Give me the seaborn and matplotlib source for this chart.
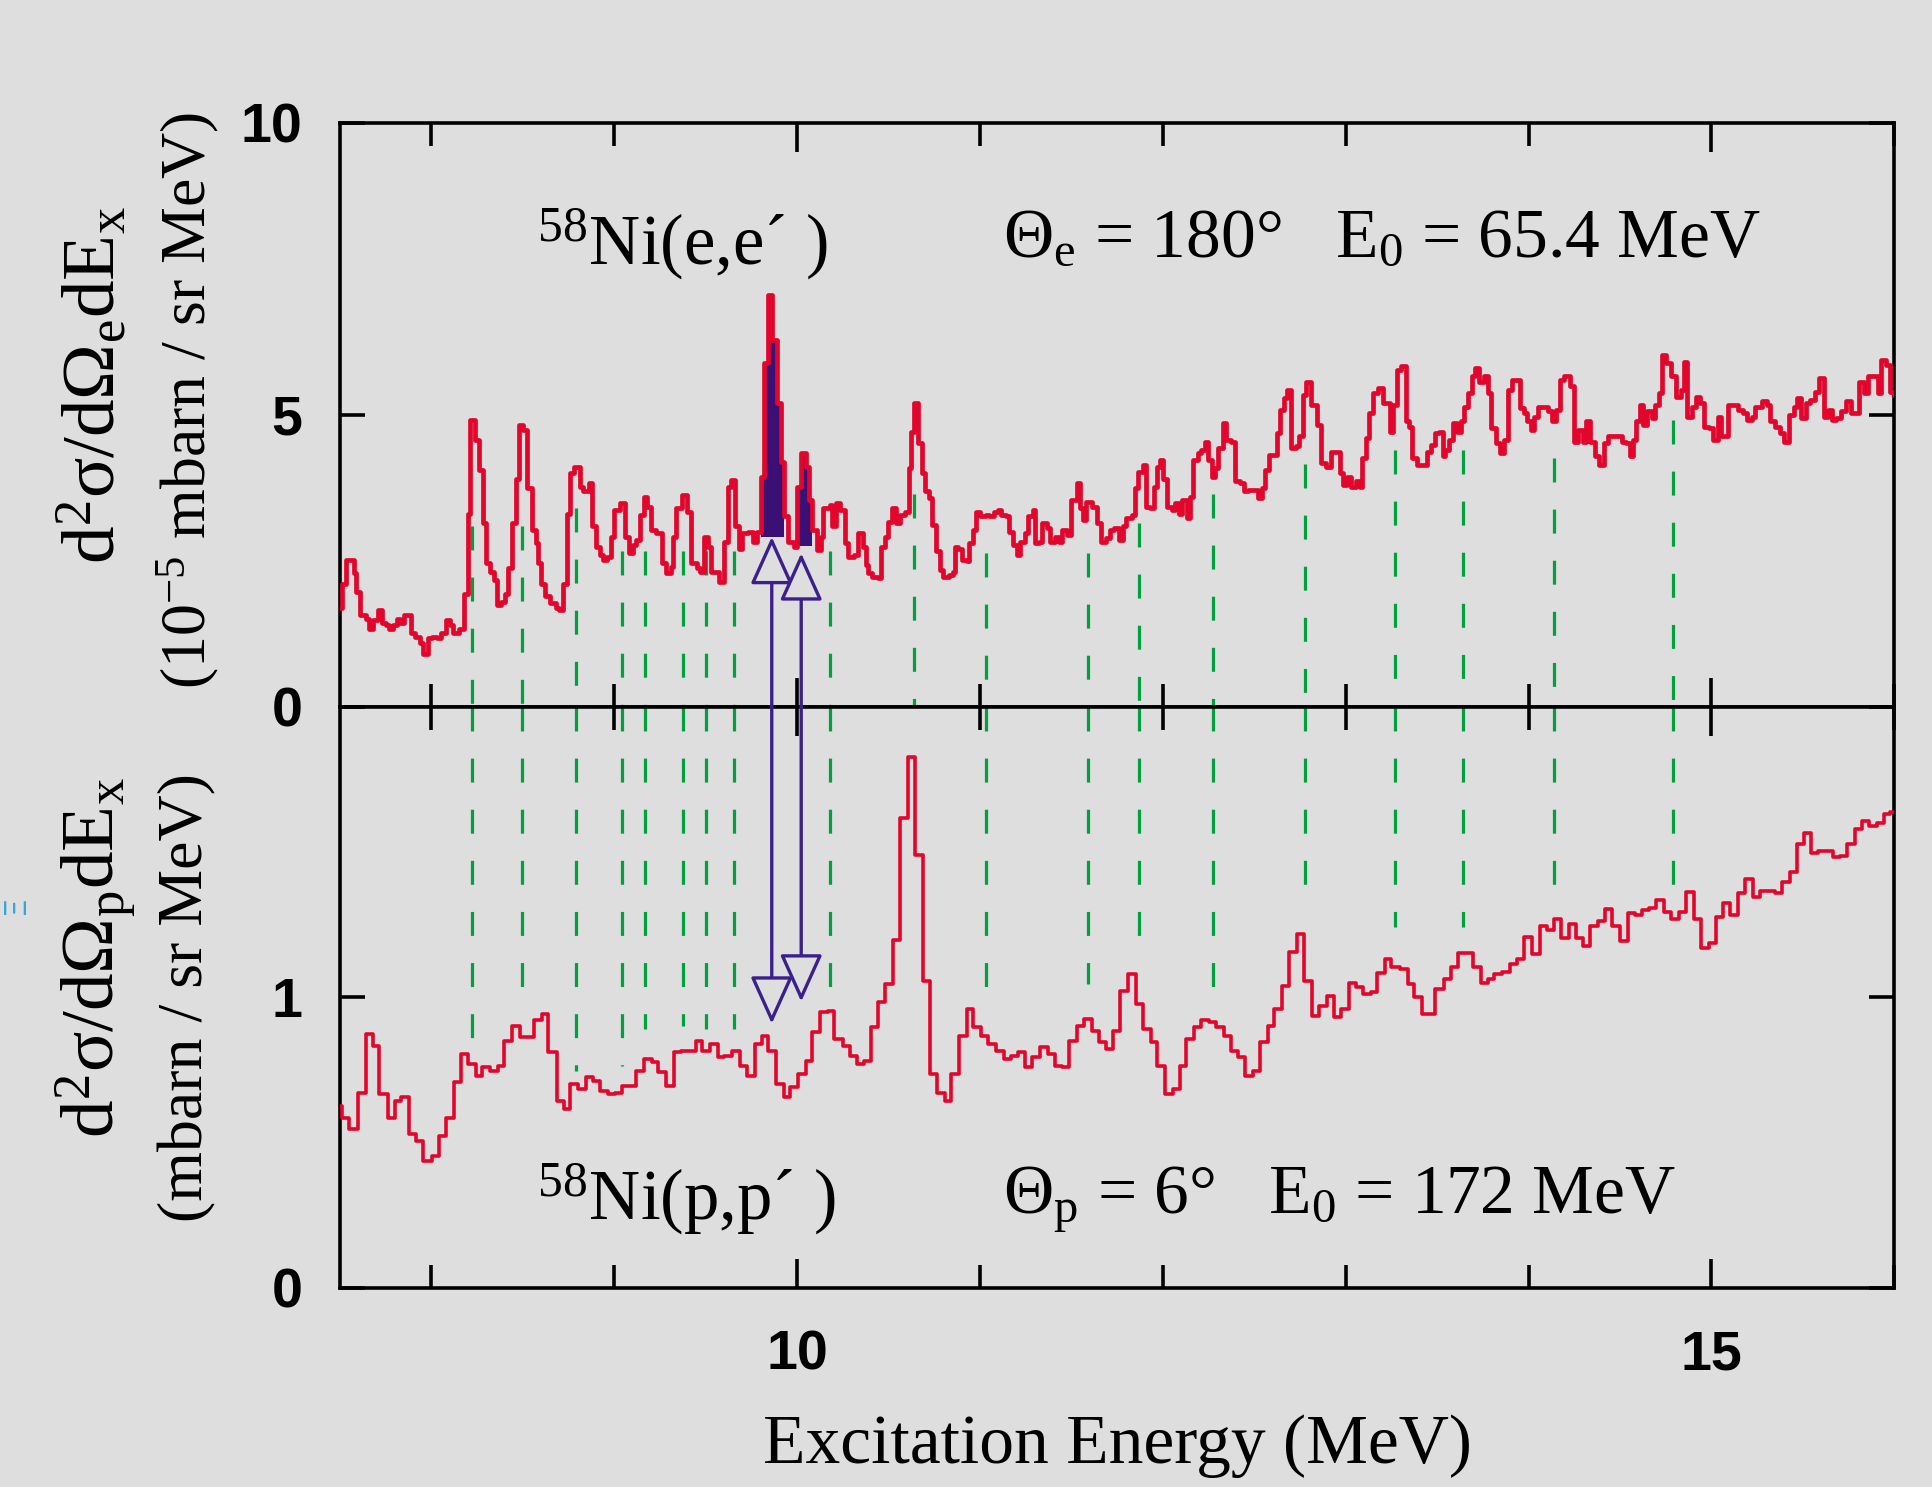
import numpy as np
import matplotlib
matplotlib.use("Agg")
import matplotlib.pyplot as plt
import seaborn as sns
from matplotlib import font_manager
from matplotlib.patches import ConnectionPatch, ArrowStyle
from matplotlib.ticker import MultipleLocator, FixedLocator

# ---------------- data ----------------
# 58Ni(e,e') spectrum, step heights (10^-5 mbarn/sr MeV); each value starts at the energy given
e_energy = [7.50, 7.51, 7.535, 7.576, 7.59, 7.61, 7.64, 7.66, 7.68, 7.71, 7.73, 7.75, 7.77, 7.79, 7.81, 7.83, 7.85,
            7.89, 7.91, 7.94, 7.955, 7.98, 8.005, 8.03, 8.05, 8.08, 8.10, 8.12, 8.15, 8.18, 8.20, 8.21, 8.24, 8.26,
            8.28, 8.30, 8.32, 8.34, 8.36, 8.38, 8.40, 8.42, 8.44, 8.46, 8.48, 8.50, 8.52, 8.55, 8.57, 8.58, 8.60,
            8.62, 8.65, 8.68, 8.70, 8.72, 8.74, 8.76, 8.78, 8.81, 8.83, 8.86, 8.88, 8.90, 8.92, 8.94, 8.96, 8.98,
            9.00, 9.03, 9.06, 9.08, 9.10, 9.12, 9.14, 9.16, 9.18, 9.20, 9.23, 9.26, 9.28, 9.31, 9.32, 9.34, 9.37,
            9.40, 9.42, 9.45, 9.47, 9.49, 9.51, 9.53, 9.57, 9.60, 9.62, 9.64, 9.66, 9.68, 9.70, 9.73, 9.76, 9.78,
            9.80, 9.82, 9.84, 9.865, 9.89, 9.91, 9.93, 9.95, 9.98, 10.00, 10.02, 10.05, 10.065, 10.08, 10.11,
            10.13, 10.14, 10.18, 10.19, 10.21, 10.235, 10.26, 10.28, 10.31, 10.33,
            10.36, 10.375, 10.39, 10.41, 10.44, 10.46, 10.48, 10.495, 10.52, 10.54, 10.56, 10.59, 10.61, 10.625,
            10.64, 10.66, 10.68, 10.70, 10.72, 10.74, 10.76, 10.78, 10.80, 10.83, 10.85, 10.865, 10.88, 10.90,
            10.93, 10.94, 10.96, 10.98, 11.00, 11.03, 11.05, 11.075, 11.10, 11.115, 11.14, 11.16, 11.18, 11.20,
            11.22, 11.245, 11.26, 11.29, 11.30, 11.32, 11.34, 11.365, 11.38, 11.41, 11.43, 11.45, 11.475, 11.50,
            11.53, 11.545, 11.563, 11.58, 11.615, 11.64, 11.66, 11.69, 11.71, 11.735, 11.76, 11.78, 11.80, 11.83,
            11.85, 11.865, 11.89, 11.91, 11.93, 11.95, 11.97, 11.985, 12.003, 12.02, 12.05, 12.068, 12.087,
            12.105, 12.13, 12.148, 12.166, 12.19, 12.21, 12.23, 12.248, 12.266, 12.285, 12.303, 12.327, 12.346,
            12.374, 12.396, 12.42, 12.444, 12.466, 12.494, 12.52, 12.54, 12.56, 12.58, 12.605, 12.623, 12.642,
            12.66, 12.679, 12.703, 12.729, 12.747, 12.766, 12.784, 12.808, 12.845, 12.864, 12.892, 12.92, 12.943,
            12.966, 12.984, 13.006, 13.03, 13.054, 13.077, 13.09, 13.11, 13.128, 13.15, 13.178, 13.206,
            13.24, 13.258, 13.282, 13.30, 13.327, 13.345, 13.364, 13.388, 13.416, 13.443, 13.467, 13.49, 13.512,
            13.53, 13.545, 13.564, 13.586, 13.61, 13.628, 13.647, 13.67, 13.689, 13.708, 13.73, 13.758, 13.776,
            13.795, 13.819, 13.841, 13.863, 13.887, 13.911, 13.937, 13.952, 13.974, 13.993, 14.011, 14.03, 14.054,
            14.082, 14.104, 14.128, 14.152, 14.17, 14.193, 14.226, 14.248, 14.27, 14.295, 14.313, 14.337, 14.363,
            14.387, 14.411, 14.433, 14.461, 14.489, 14.511, 14.535, 14.554, 14.572, 14.59, 14.609, 14.628, 14.646,
            14.674, 14.692, 14.711, 14.73, 14.752, 14.776, 14.807, 14.831, 14.85, 14.868, 14.896, 14.914, 14.937,
            14.961, 14.985, 15.007, 15.035, 15.053, 15.072, 15.09, 15.118, 15.146, 15.17, 15.196, 15.22, 15.238,
            15.275, 15.303, 15.322, 15.349, 15.377, 15.396, 15.423, 15.451, 15.47, 15.492, 15.516, 15.54, 15.566,
            15.59, 15.614, 15.636, 15.658, 15.682, 15.71, 15.738, 15.762, 15.784, 15.806, 15.836, 15.858, 15.886,
            15.91, 15.928, 15.954, 15.978, 16.0]
e_xsec = [1.69, 2.11, 2.51, 2.29, 1.97, 1.57, 1.51, 1.34, 1.49, 1.66, 1.43, 1.40, 1.34, 1.40, 1.51, 1.43, 1.57,
          1.26, 1.20, 1.09, 0.91, 1.17, 1.20, 1.17, 1.26, 1.49, 1.40, 1.26, 1.34, 1.94, 3.31, 4.91, 4.57, 4.06,
          3.14, 2.46, 2.31, 2.17, 1.74, 1.80, 1.94, 2.37, 3.14, 3.91, 4.83, 4.74, 3.74, 3.03, 2.80, 2.46, 2.11,
          1.89, 1.77, 1.69, 1.66, 2.11, 3.31, 4.00, 4.11, 3.77, 3.69, 3.83, 3.09, 2.74, 2.60, 2.51, 2.57, 2.91,
          3.37, 3.49, 2.91, 2.63, 2.77, 2.86, 3.29, 3.60, 3.43, 3.03, 2.97, 2.46, 2.29, 2.40, 2.91, 3.40, 3.63,
          3.34, 2.46, 2.37, 2.31, 2.91, 2.74, 2.31, 2.14, 2.83, 3.77, 3.89, 3.09, 2.71, 2.97, 3.00, 2.83, 3.00,
          3.94, 5.89, 7.06, 6.29, 5.20, 4.20, 3.26, 2.83, 2.74, 3.77, 4.34, 4.11, 3.54, 3.03, 2.69,
          2.91, 3.40, 3.46, 3.09, 3.49, 3.37, 2.80, 2.57, 2.60, 2.97,
          2.74, 2.43, 2.29, 2.23, 2.20, 2.74, 2.91, 3.17, 3.40, 3.14, 3.29, 3.34, 4.09, 4.71,
          5.20, 4.51, 4.00, 3.69, 3.57, 3.11, 2.66, 2.34, 2.23, 2.26, 2.31, 2.74, 2.71, 2.51,
          2.49, 2.80, 3.03, 3.34, 3.26, 3.29, 3.26, 3.34, 3.37, 3.29, 3.26, 3.00, 2.77, 2.60,
          2.83, 2.97, 3.26, 3.37, 2.80, 2.83, 3.14, 3.06, 2.83, 2.91, 2.83, 3.03, 2.94, 3.54,
          3.83, 3.40, 3.20, 3.51, 3.43, 3.14, 2.83, 2.89, 3.03, 3.06, 2.86, 3.09, 3.23, 3.29,
          3.74, 4.03, 4.14, 3.43, 3.40, 3.77, 4.11, 4.23, 3.91, 3.43, 3.37, 3.49, 3.31,
          3.54, 3.23, 3.60, 4.23, 4.34, 4.40, 4.54, 4.23, 3.94, 4.09, 4.43, 4.86, 4.57,
          4.54, 3.86, 3.83, 3.69, 3.71, 3.71, 3.57, 3.74, 4.06, 4.31, 4.31, 4.69, 5.09,
          5.29, 5.43, 4.43, 4.46, 4.63, 5.34, 5.57, 5.17, 4.83, 4.17, 4.11, 4.37, 4.37,
          4.00, 3.80, 3.94, 3.77, 3.86, 3.77, 4.26, 4.60, 5.03, 5.37, 5.46, 5.20,
          4.71, 5.17, 5.77, 5.83, 4.89, 4.80, 4.26, 4.14, 4.14, 4.37, 4.49, 4.69, 4.71,
          4.29, 4.40, 4.57, 4.86, 4.71, 4.89, 5.14, 5.37, 5.66, 5.80, 5.57, 5.66, 5.37,
          4.77, 4.51, 4.34, 4.57, 5.43, 5.60, 5.60, 5.11, 5.03, 4.89, 4.74, 4.97, 5.14,
          5.14, 5.06, 4.89, 5.09, 5.60, 5.66, 5.49, 4.54, 4.74, 4.54, 4.89, 4.54, 4.29,
          4.14, 4.51, 4.63, 4.63, 4.63, 4.54, 4.51, 4.29, 4.57, 4.89, 5.17, 4.83, 5.06,
          4.94, 5.17, 5.37, 6.03, 5.89, 5.66, 5.31, 5.43, 5.91, 4.97, 5.14, 5.31, 5.20,
          4.80, 4.77, 4.57, 4.97, 4.63, 4.63, 5.17, 5.17, 5.09, 5.03, 4.91, 4.97, 5.14,
          5.23, 5.17, 4.89, 4.80, 4.69, 4.54, 5.00, 5.14, 5.29, 4.94, 5.20, 5.26, 5.40,
          5.63, 4.97, 5.09, 4.91, 4.94, 5.06, 5.23, 5.03, 5.03, 5.57, 5.37, 5.66, 5.66,
          5.37, 5.94, 5.86, 5.40, 5.34]

# 58Ni(p,p') spectrum, step heights (mbarn/sr MeV)
p_energy = [7.50, 7.51, 7.548, 7.598, 7.64, 7.678, 7.715, 7.761, 7.798, 7.835, 7.876, 7.918, 7.955, 8.001, 8.042,
            8.079, 8.122, 8.159, 8.201, 8.242, 8.279, 8.32, 8.362, 8.399, 8.442, 8.483, 8.52, 8.56, 8.603, 8.64,
            8.686, 8.723, 8.76, 8.801, 8.843, 8.886, 8.923, 8.964, 9.004, 9.041, 9.084, 9.121, 9.164, 9.204,
            9.241, 9.282, 9.325, 9.367, 9.404, 9.445, 9.482, 9.523, 9.565, 9.602, 9.645, 9.685, 9.726, 9.769,
            9.806, 9.843, 9.885, 9.926, 9.963, 10.004, 10.046, 10.083, 10.126, 10.167, 10.204, 10.25, 10.287,
            10.329, 10.366, 10.403, 10.44, 10.482, 10.523, 10.564, 10.606, 10.643, 10.686, 10.727, 10.767, 10.81,
            10.841, 10.884, 10.926, 10.963, 11.004, 11.045, 11.087, 11.13, 11.171, 11.208, 11.245, 11.285,
            11.328, 11.371, 11.411, 11.448, 11.489, 11.532, 11.569, 11.611, 11.652, 11.689, 11.726, 11.767,
            11.809, 11.852, 11.892, 11.933, 11.97, 12.013, 12.055, 12.092, 12.129, 12.17, 12.211, 12.253, 12.29,
            12.333, 12.374, 12.41, 12.451, 12.494, 12.531, 12.573, 12.61, 12.651, 12.692, 12.734, 12.771, 12.814,
            12.855, 12.895, 12.938, 12.975, 13.017, 13.058, 13.095, 13.136, 13.173, 13.216, 13.249, 13.295,
            13.338, 13.375, 13.416, 13.49, 13.536, 13.573, 13.615, 13.697, 13.739, 13.776, 13.813, 13.856,
            13.897, 13.934, 13.974, 14.017, 14.06, 14.10, 14.137, 14.178, 14.221, 14.258, 14.295, 14.337, 14.378,
            14.419, 14.456, 14.498, 14.541, 14.581, 14.618, 14.659, 14.696, 14.739, 14.781, 14.822, 14.863,
            14.905, 14.942, 14.985, 15.025, 15.063, 15.103, 15.146, 15.183, 15.225, 15.266, 15.307, 15.349,
            15.386, 15.429, 15.466, 15.507, 15.544, 15.584, 15.627, 15.664, 15.701, 15.743, 15.784, 15.825,
            15.862, 15.904, 15.941, 15.978, 16.0]
p_xsec = [0.626, 0.586, 0.546, 0.672, 0.874, 0.833, 0.667, 0.586, 0.644, 0.655, 0.529, 0.506, 0.437, 0.454, 0.523,
          0.586, 0.707, 0.805, 0.770, 0.730, 0.759, 0.747, 0.764, 0.851, 0.902, 0.862, 0.862, 0.920, 0.943, 0.810,
          0.644, 0.615, 0.701, 0.684, 0.724, 0.713, 0.678, 0.667, 0.672, 0.695, 0.695, 0.747, 0.787, 0.776,
          0.741, 0.695, 0.810, 0.816, 0.816, 0.851, 0.816, 0.839, 0.793, 0.799, 0.816, 0.764, 0.730, 0.839,
          0.868, 0.816, 0.701, 0.655, 0.690, 0.736, 0.782, 0.879, 0.948, 0.954, 0.856, 0.833, 0.799,
          0.770, 0.782, 0.897, 0.983, 1.046, 1.198, 1.618, 1.828, 1.489, 1.057, 0.736, 0.672, 0.644,
          0.736, 0.868, 0.960, 0.897, 0.868, 0.839, 0.816, 0.787, 0.799, 0.810, 0.759, 0.793,
          0.828, 0.805, 0.764, 0.759, 0.851, 0.902, 0.925, 0.885, 0.845, 0.822, 0.885, 1.023,
          1.080, 0.977, 0.891, 0.845, 0.764, 0.667, 0.684, 0.764, 0.856, 0.897, 0.920, 0.914, 0.897,
          0.868, 0.816, 0.793, 0.730, 0.747, 0.845, 0.902, 0.960, 1.040, 1.155, 1.218, 1.057, 0.937,
          0.971, 1.006, 0.931, 0.960, 1.048, 1.037, 1.011, 1.017, 1.083, 1.132, 1.103, 1.098,
          1.046, 1.000, 0.943, 1.029, 1.063, 1.103, 1.152, 1.103, 1.048, 1.063, 1.080, 1.086,
          1.115, 1.132, 1.209, 1.149, 1.247, 1.232, 1.270, 1.205, 1.253, 1.205, 1.175, 1.244, 1.262,
          1.305, 1.247, 1.193, 1.290, 1.282, 1.301, 1.308, 1.336, 1.293, 1.270, 1.293, 1.362,
          1.270, 1.170, 1.186, 1.278, 1.324, 1.282, 1.359, 1.408, 1.345, 1.366, 1.366, 1.359,
          1.397, 1.431, 1.526, 1.566, 1.497, 1.503, 1.503, 1.483, 1.485, 1.526, 1.580, 1.607,
          1.589, 1.600, 1.630, 1.638, 1.638]

# common levels (green dashed lines): energy, top end in (e,e') units, bottom end in (p,p') units
level_energy = [8.224, 8.496, 8.793, 9.043, 9.169, 9.375, 9.504, 9.656, 10.18, 10.641, 11.032, 11.589,
                11.872, 12.274, 12.777, 13.269, 13.639, 14.141, 14.79]
level_top = [3.09, 3.09, 3.40, 2.66, 2.66, 2.66, 2.66, 2.66, 2.66, 3.65, 2.64, 2.64, 3.15, 3.65, 4.15,
             4.40, 4.40, 4.26, 4.91]
level_bottom = [0.805, 0.977, 0.747, 0.764, 0.891, 0.902, 0.891, 0.891, 0.954, 2.0, 0.954, 1.046, 1.144,
                0.954, 1.35, 1.241, 1.241, 1.368, 1.345]

# highlighted (e,e') peaks: energy range and background level
highlight_ranges = [(9.80, 9.93), (10.00, 10.09)]
highlight_base = [2.90, 2.76]

# double arrows: energy, tip in (e,e') units, tip in (p,p') units
arrow_energy = [9.861, 10.022]
arrow_top = [2.91, 2.63]
arrow_bottom = [0.909, 0.985]

x_ticks = [10, 15]
top_yticks = [0, 5, 10]
bottom_yticks = [0, 1, 2]
bottom_yticklabels = ["0", "1", ""]

# ---------------- style ----------------
sns.set_theme(style="ticks")
BG = "#dedede"
RED = "#e2062c"
GREEN = "#00a03e"
PURPLE = "#3b1f8c"
FILL = "#3a1074"

SERIF = ["Liberation Serif", "DejaVu Serif"]
SANS = ["Liberation Sans", "DejaVu Sans"]

plt.rcParams["font.family"] = SANS
plt.rcParams["mathtext.fontset"] = "custom"
plt.rcParams["mathtext.rm"] = "Liberation Serif"
plt.rcParams["mathtext.it"] = "Liberation Serif:italic"
plt.rcParams["mathtext.bf"] = "Liberation Serif:bold"
for key in ("text.color", "axes.labelcolor", "xtick.color", "ytick.color", "axes.edgecolor"):
    plt.rcParams[key] = "black"
plt.rcParams["figure.facecolor"] = BG
plt.rcParams["axes.facecolor"] = BG
plt.rcParams["savefig.facecolor"] = BG

fig = plt.figure(figsize=(19.32, 14.87), dpi=100)
L, R = 0.176, 0.9805
ax_top = fig.add_axes([L, 0.5247, R - L, 0.9173 - 0.5247])
ax_bot = fig.add_axes([L, 0.1340, R - L, 0.5247 - 0.1340])

SPW = 2.6
for ax in (ax_top, ax_bot):
    ax.set_facecolor(BG)
    for sp in ax.spines.values():
        sp.set_color("black")
        sp.set_linewidth(SPW)
    ax.set_xlim(7.5, 16.0)
    ax.xaxis.set_major_locator(FixedLocator(x_ticks))
    ax.xaxis.set_minor_locator(MultipleLocator(1))
    ax.tick_params(axis="x", which="major", direction="in", length=21, width=SPW, top=True, bottom=True,
                   labelsize=40, pad=30, colors="black")
    ax.tick_params(axis="x", which="minor", direction="in", length=16.5, width=SPW, top=True, bottom=True)
    ax.tick_params(axis="y", which="major", direction="in", length=18, width=SPW, left=True, right=True,
                   labelsize=40, pad=27, colors="black")
    ax.grid(False)

# ---- top panel
ax_top.set_ylim(0, 10)
ax_top.set_yticks(top_yticks)
ax_top.set_yticklabels([str(t) for t in top_yticks])
ax_top.tick_params(axis="x", labelbottom=False)

for (lo, hi), base in zip(highlight_ranges, highlight_base):
    xs = [e for e in e_energy if lo <= e <= hi]
    ys = [v for e, v in zip(e_energy, e_xsec) if lo <= e <= hi]
    ax_top.fill_between(xs, ys, base, step="post", color=FILL, lw=0, zorder=2)

DASH = (7.5, 8.5)
# dashed level lines, pattern starting at the end next to each spectrum
for e, t in zip(level_energy, level_top):
    ax_top.plot([e, e], [t, 0], color=GREEN, lw=2.3, linestyle=(0, DASH), zorder=1,
                dash_capstyle="butt", antialiased=True)
sns.lineplot(x=e_energy, y=e_xsec, ax=ax_top, color=RED, linewidth=3.4, drawstyle="steps-post",
             estimator=None, sort=False, zorder=3)

# ---- bottom panel
ax_bot.set_ylim(0, 2)
ax_bot.set_yticks(bottom_yticks)
ax_bot.set_yticklabels(bottom_yticklabels)
ax_bot.set_xticklabels([str(t) for t in x_ticks])

for e, b in zip(level_energy, level_bottom):
    if b < 2:
        ax_bot.plot([e, e], [2, b], color=GREEN, lw=2.3, linestyle=(0, DASH), zorder=1,
                    dash_capstyle="butt")
sns.lineplot(x=p_energy, y=p_xsec, ax=ax_bot, color=RED, linewidth=2.6, drawstyle="steps-post",
             estimator=None, sort=False, zorder=3)

for ax in (ax_top, ax_bot):
    for lab in ax.get_xticklabels() + ax.get_yticklabels():
        lab.set_fontweight("bold")

ax_top.set_xlabel("")
ax_top.set_ylabel("")
ax_bot.set_ylabel("")
ax_bot.set_xlabel("Excitation Energy (MeV)", family=SERIF, fontsize=50, labelpad=24)

# ---- arrows across panels
style = ArrowStyle("<|-|>", head_length=1.0, head_width=0.45)
for e, t, b in zip(arrow_energy, arrow_top, arrow_bottom):
    con = ConnectionPatch(xyA=(e, t), coordsA=ax_top.transData, xyB=(e, b), coordsB=ax_bot.transData,
                          arrowstyle=style, mutation_scale=30, shrinkA=0, shrinkB=0,
                          edgecolor=PURPLE, facecolor=BG, lw=2.4, zorder=10)
    fig.add_artist(con)

# ---- annotations
TS = 51
ax_top.text(8.576, 7.57, r"$^{58}$Ni(e,e´ )", family=SERIF, fontsize=TS, va="baseline", ha="left")
ax_top.text(11.127, 7.72, r"Θ$_\mathrm{e}$ = 180°   E$_0$ = 65.4 MeV", family=SERIF, fontsize=TS - 1,
            va="baseline", ha="left")
ax_bot.text(8.576, 0.235, r"$^{58}$Ni(p,p´ )", family=SERIF, fontsize=TS, va="baseline", ha="left")
ax_bot.text(11.127, 0.255, r"Θ$_\mathrm{p}$ = 6°   E$_0$ = 172 MeV", family=SERIF, fontsize=TS - 1,
            va="baseline", ha="left")

# y-axis labels (two lines each)
fig.text(0.049, 0.741, r"d$^2$σ/dΩ$_\mathrm{e}$dE$_\mathrm{x}$", family=SERIF, fontsize=54, rotation=90,
         ha="center", va="center")
fig.text(0.097, 0.731, r"(10$^{-5}$ mbarn / sr MeV)", family=SERIF, fontsize=46, rotation=90,
         ha="center", va="center")
fig.text(0.049, 0.356, r"d$^2$σ/dΩ$_\mathrm{p}$dE$_\mathrm{x}$", family=SERIF, fontsize=54, rotation=90,
         ha="center", va="center")
fig.text(0.097, 0.329, r"(mbarn / sr MeV)", family=SERIF, fontsize=46, rotation=90,
         ha="center", va="center")

# small stray glyph at the left edge
fig.text(0.0005, 0.392, "Ξ", color="#33a6df", fontsize=22, rotation=90, ha="left", va="center",
         family=["DejaVu Sans"])

fig.savefig("out.png", dpi=100, facecolor=BG)
